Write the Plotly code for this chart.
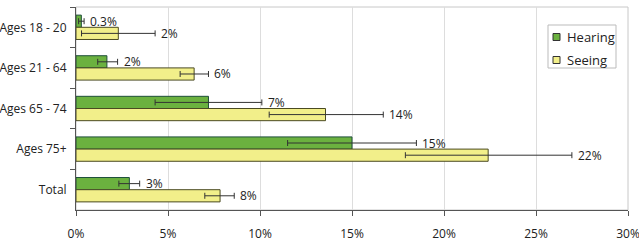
import plotly.graph_objects as go

categories = ["Ages 18 - 20", "Ages 21 - 64", "Ages 65 - 74", "Ages 75+", "Total"]
hearing = [0.29, 1.68, 7.2, 15.0, 2.9]
hearing_minus = [0.15, 0.5, 2.9, 3.5, 0.57]
hearing_plus = [0.15, 0.58, 2.9, 3.5, 0.56]
hearing_labels = ["0.3%", "2%", "7%", "15%", "3%"]
seeing = [2.3, 6.42, 13.56, 22.4, 7.83]
seeing_minus = [2.0, 0.76, 3.06, 4.5, 0.83]
seeing_plus = [2.0, 0.78, 3.14, 4.55, 0.77]
seeing_labels = ["2%", "6%", "14%", "22%", "8%"]
x_ticks = [0, 5, 10, 15, 20, 25, 30]

FONT = "Open Sans, Noto Sans, sans-serif"
W, H = 639, 251
ML, MR, MT, MB = 76, 11, 7, 41
PW, PH = W - ML - MR, H - MT - MB

def px(x):
    return (x - ML) / PW

def py(y):
    return (H - MB - y) / PH

series = [
    dict(name="Hearing", vals=hearing, minus=hearing_minus, plus=hearing_plus, labels=hearing_labels,
         fill="#6BB13F", line="#1E4F3A", yshift=6),
    dict(name="Seeing", vals=seeing, minus=seeing_minus, plus=seeing_plus, labels=seeing_labels,
         fill="#F2EF8A", line="#4A4A22", yshift=-6),
]

fig = go.Figure()
annotations = []
shapes = [dict(type="rect", xref="paper", yref="paper", x0=0, x1=1, y0=0, y1=1,
               line=dict(color="#C8C8C8", width=1), layer="below")]

for s in series:
    fig.add_trace(go.Bar(
        name=s["name"], y=categories, x=s["vals"], orientation="h", showlegend=False,
        marker=dict(color=s["fill"], line=dict(color=s["line"], width=1)),
        error_x=dict(type="data", symmetric=False, array=s["plus"], arrayminus=s["minus"],
                     color="#333333", thickness=1, width=3),
    ))
    for i, c in enumerate(categories):
        annotations.append(dict(x=s["vals"][i] + s["plus"][i], y=c, xref="x", yref="y",
                                text=s["labels"][i], showarrow=False, xanchor="left",
                                xshift=4, yshift=s["yshift"],
                                font=dict(size=12, color="#222", family=FONT)))

# legend box
shapes.append(dict(type="rect", xref="paper", yref="paper", x0=px(548), x1=px(616),
                   y0=py(68), y1=py(25), line=dict(color="#BBBBBB", width=1), fillcolor="white"))
for k, s in enumerate(series):
    cy = 37 + 23 * k
    shapes.append(dict(type="rect", xref="paper", yref="paper", x0=px(553), x1=px(560),
                       y0=py(cy + 3.5), y1=py(cy - 3.5), line=dict(color="#333333", width=1),
                       fillcolor=s["fill"]))
    annotations.append(dict(x=px(565), y=py(cy), xref="paper", yref="paper", text=s["name"],
                            showarrow=False, xanchor="left", yanchor="middle",
                            font=dict(size=13, color="#222", family=FONT)))

fig.update_layout(
    width=W, height=H,
    margin=dict(l=ML, r=MR, t=MT, b=MB),
    paper_bgcolor="white", plot_bgcolor="white",
    barmode="group", bargap=0.4, bargroupgap=0,
    font=dict(family=FONT, size=12, color="#222"),
    showlegend=False,
    annotations=annotations,
    shapes=shapes,
)
fig.update_xaxes(range=[0, 30], tickvals=x_ticks, ticktext=[f"{v}%" for v in x_ticks],
                 showgrid=True, gridcolor="#DDDDDD", gridwidth=1,
                 showline=True, linecolor="#555555", linewidth=1,
                 ticks="outside", ticklen=5, tickcolor="#555555", zeroline=False,
                 ticklabelstandoff=8, automargin=False, ticklabeloverflow="allow",
                 tickfont=dict(size=12, family=FONT))
fig.update_yaxes(autorange="reversed", showline=True, linecolor="#555555", linewidth=1,
                 ticks="outside", ticklen=5, tickcolor="#555555", tickson="boundaries",
                 showgrid=False, ticklabelstandoff=6, automargin=False,
                 ticklabeloverflow="allow", tickfont=dict(size=12, family=FONT))

fig.write_html("out.html")
